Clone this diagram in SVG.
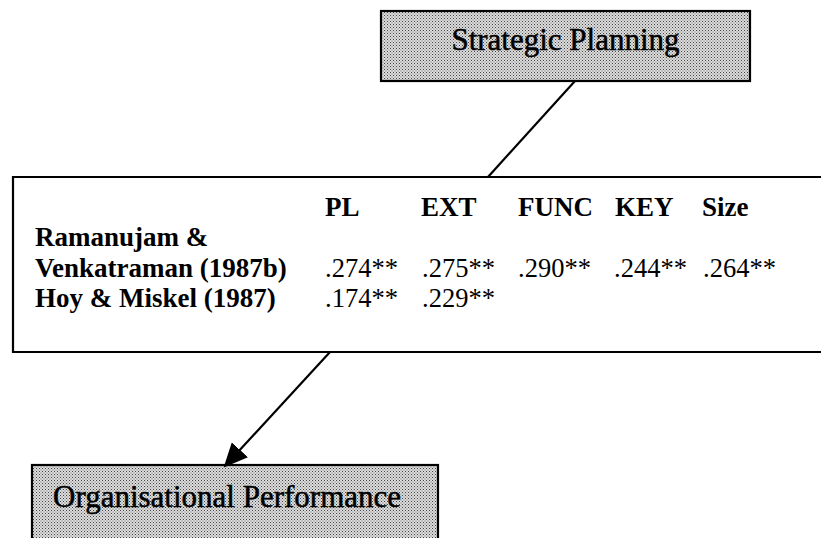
<svg xmlns="http://www.w3.org/2000/svg" width="821" height="538" viewBox="0 0 821 538">
<style>
.box{stroke:#000;stroke-width:2.2;fill:url(#dots)}
.tbl{stroke:#000;stroke-width:2.2;fill:#fff}
.lbl{font-family:"Liberation Serif","Times New Roman",serif;font-size:31px;fill:#000;stroke:#000;stroke-width:0.5}
.h{font-family:"Liberation Serif","Times New Roman",serif;font-size:27px;font-weight:bold;fill:#000}
.v{font-family:"Liberation Serif","Times New Roman",serif;font-size:26.5px;fill:#000}
.conn{stroke:#000;stroke-width:2.2;fill:none}
</style>
<defs>
<pattern id="dots" width="3" height="3" patternUnits="userSpaceOnUse">
<rect width="3" height="3" fill="#dcdcdc"/>
<rect x="0" y="0" width="1" height="1" fill="#444"/>
<rect x="1.5" y="1.5" width="1" height="1" fill="#6a6a6a"/>
</pattern>
<marker id="arrow" markerUnits="userSpaceOnUse" markerWidth="24" markerHeight="22" viewBox="0 0 24 22" refX="22" refY="11" orient="auto">
<path d="M0,0 L24,11 L0,22 Z" fill="#000"/>
</marker>
</defs>
<g id="strategic-planning">
<rect class="box" x="381" y="11" width="369" height="70"/>
<text class="lbl" x="565.5" y="50" text-anchor="middle">Strategic Planning</text>
</g>
<g id="correlation-table">
<path class="tbl" d="M830,177 L13,177 L13,352 L830,352"/>
<text class="h" x="325" y="216">PL</text>
<text class="h" x="421" y="216">EXT</text>
<text class="h" x="518" y="216">FUNC</text>
<text class="h" x="615" y="216">KEY</text>
<text class="h" x="702" y="216">Size</text>
<text class="h" x="35" y="246">Ramanujam &amp;</text>
<text class="h" x="35" y="277">Venkatraman (1987b)</text>
<text class="v" x="325" y="277">.274**</text>
<text class="v" x="422" y="277">.275**</text>
<text class="v" x="518" y="277">.290**</text>
<text class="v" x="614" y="277">.244**</text>
<text class="v" x="703" y="277">.264**</text>
<text class="h" x="35" y="307">Hoy &amp; Miskel (1987)</text>
<text class="v" x="325" y="307">.174**</text>
<text class="v" x="422" y="307">.229**</text>
</g>
<g id="organisational-performance">
<rect class="box" x="32" y="465" width="406" height="90"/>
<text class="lbl" x="53" y="507">Organisational Performance</text>
</g>
<g id="connectors">
<line class="conn" x1="575" y1="81" x2="488" y2="177"/>
<line class="conn" x1="330" y1="352" x2="225" y2="466" marker-end="url(#arrow)"/>
</g>
</svg>
